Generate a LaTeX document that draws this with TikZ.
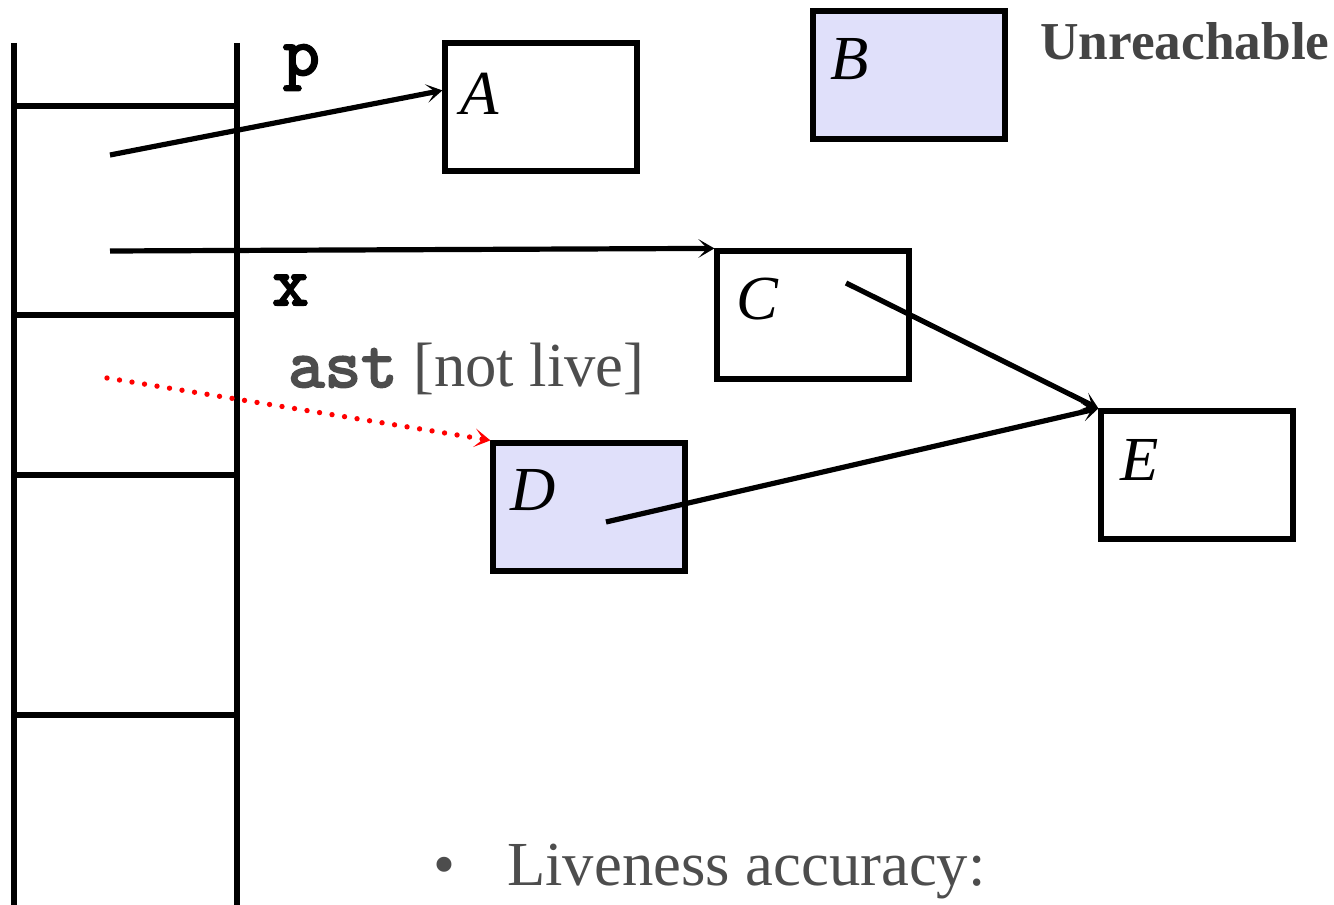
\documentclass[tikz,border=0pt]{standalone}
\usepackage{fontspec}
\setmainfont{Liberation Serif}
\newfontfamily\codefont[FakeBold=3]{lmmono10-regular.otf}
\usetikzlibrary{calc,arrows.meta}
\definecolor{boxfill}{RGB}{224,224,250}
\definecolor{txtgray}{RGB}{77,77,77}
\definecolor{hdgray}{RGB}{68,68,68}
\begin{document}
\begin{tikzpicture}[x=0.75pt,y=-0.75pt,
  heapbox/.style={draw=black,line width=3.9pt,rectangle,minimum width=144pt,minimum height=96pt,inner sep=0pt},
  shaded/.style={heapbox,fill=boxfill},
  letter/.style={anchor=base west,inner sep=0pt,font=\fontsize{47}{56}\selectfont\itshape},
  stackline/.style={line width=3.9pt},
  ptr/.style={line width=3.9pt,-{Stealth[length=12pt,width=14pt,inset=6.5pt]}},
  deadptr/.style={line width=4pt,red,line cap=round,dash pattern=on 0pt off 9.5pt,-{Stealth[length=12pt,width=14pt,inset=6.5pt,line cap=butt]}},
  varlabel/.style={anchor=base west,inner sep=0pt,font=\fontsize{52}{60}\selectfont\codefont},
]
\useasboundingbox (0,0) rectangle (1334,905);
% stack frame
\draw[stackline] (14,43) -- (14,905);
\draw[stackline] (237,43) -- (237,905);
\foreach \yy in {106,315,475,715} \draw[stackline] (14,\yy) -- (237,\yy);
% heap objects
\node[heapbox] (A) at (541,107) {};
\node[shaded]  (B) at (909,75) {};
\node[heapbox] (C) at (813,315) {};
\node[shaded]  (D) at (589,507) {};
\node[heapbox] (E) at (1197,475) {};
\node[letter] (LA) at ($(A.north west)+(18,74)$) {A};
\node[letter] (LB) at ($(B.north west)+(20,71)$) {B};
\node[letter] (LC) at ($(C.north west)+(22,71)$) {C};
\node[letter] (LD) at ($(D.north west)+(20,70)$) {D};
\node[letter] (LE) at ($(E.north west)+(22,72)$) {E};
% labels
\node[anchor=base west,inner sep=0pt,text=hdgray,font=\fontsize{40}{48}\selectfont\bfseries] (unr) at (1040,60) {Unreachable};
\node[varlabel] (vp) at (283,75) {p};
\node[varlabel] (vx) at (272,305) {x};
\node[anchor=base west,inner sep=0pt,text=txtgray,font=\fontsize{47}{56}\selectfont] (vast) at (288,387) {{\fontsize{52}{60}\selectfont\codefont ast} [not live]};
\node[anchor=base west,inner sep=0pt,text=txtgray,font=\fontsize{47}{56}\selectfont] (bul) at (433,885) {\textbullet\hspace{39pt}Liveness accuracy:};
% pointers
\coordinate (sp) at (110,155);
\coordinate (sx) at (110,251);
\coordinate (sa) at (107,378);
\coordinate (Ain) at ($(A.north west)+(0,50)$);
\coordinate (Cin) at (846,283);
\coordinate (Din) at (606,522);
\draw[ptr] (sp) -- (Ain);
\draw[ptr] (sx) -- (C.north west);
\draw[ptr] (Cin) -- (E.north west);
\draw[ptr] (Din) -- (E.north west);
\draw[deadptr] (sa) -- (D.north west);
\end{tikzpicture}
\end{document}
